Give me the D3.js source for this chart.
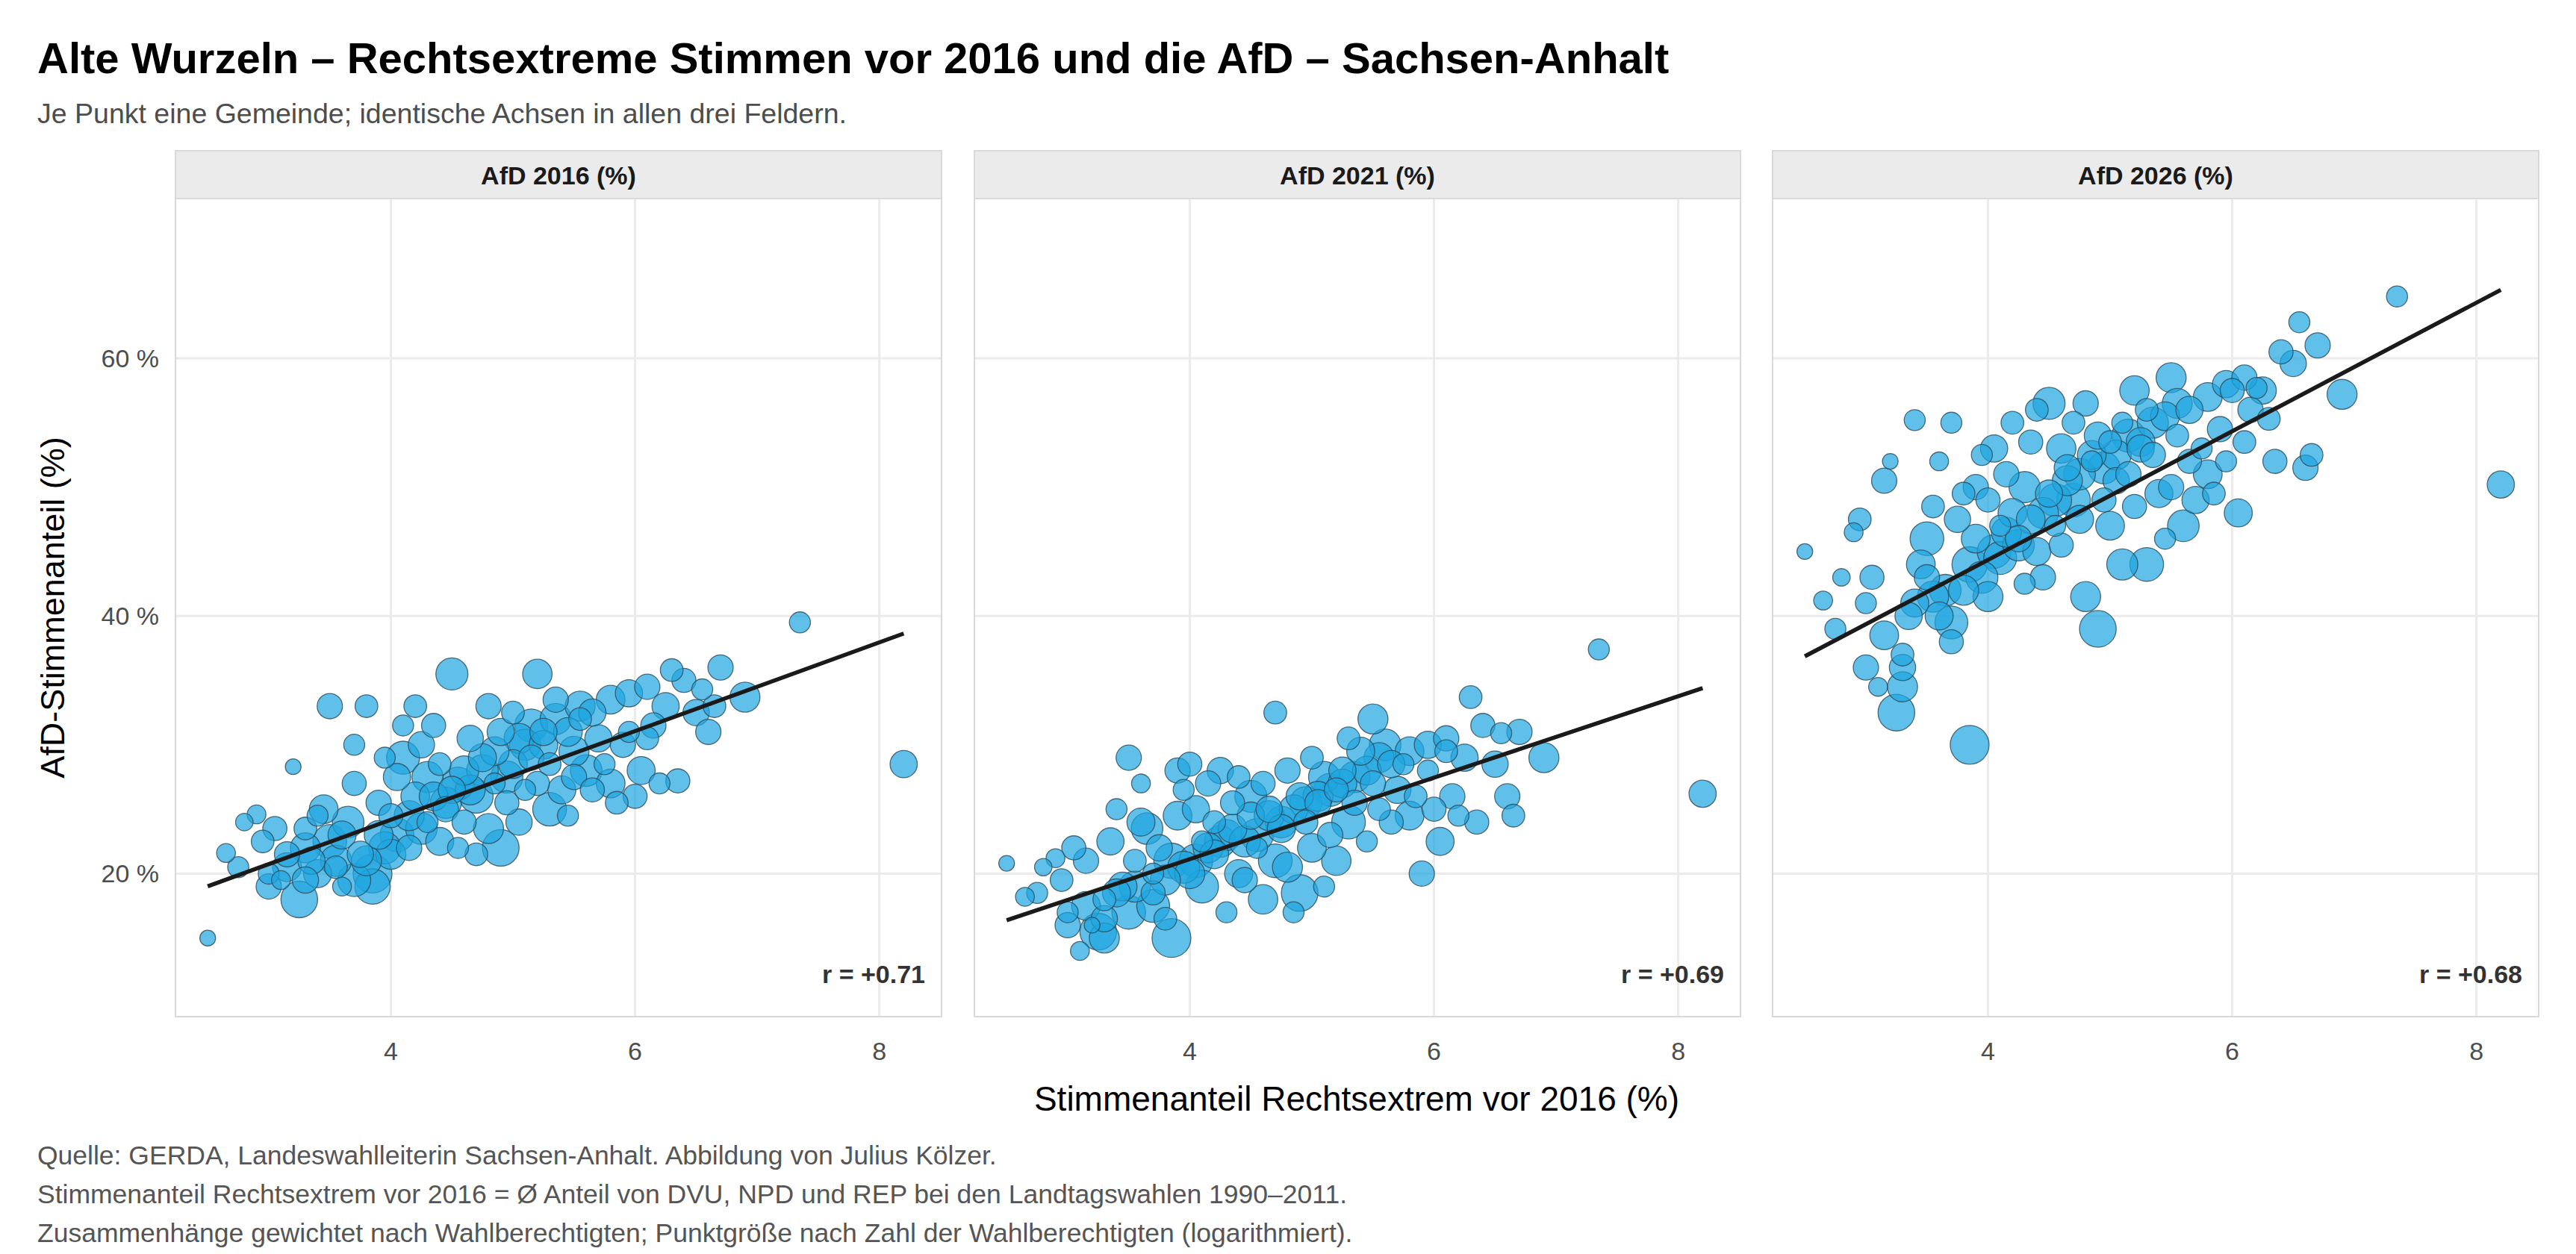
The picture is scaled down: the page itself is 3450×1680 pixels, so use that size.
<!DOCTYPE html>
<html><head><meta charset="utf-8">
<script src="https://cdn.jsdelivr.net/npm/d3@7"></script>
<style>body{margin:0;background:#fff}svg{font-family:"Liberation Sans",Arial,sans-serif}</style>
</head><body>
<svg id="c" width="3450" height="1680"></svg>
<script>
const panels = ["AfD 2016 (%)","AfD 2021 (%)","AfD 2026 (%)"];
const xTicks = [4,6,8];
const yTicks = [20,40,60];
// [x, eligible voters (thousands), AfD2016, AfD2021, AfD2026]
const gemeinden = [
[2.5,1,15.0,20.8,45.0],[2.65,2,21.6,18.2,41.2],[2.8,1.5,24.0,20.5,43.0],[2.9,2,24.6,21.2,46.5],
[2.95,4,22.5,19.5,47.5],[3.0,3,20.0,17.0,41.0],[3.05,5,23.5,22.0,43.0],[3.1,2,19.5,14.0,34.5],
[3.15,6,21.5,21.0,50.5],[3.2,1,28.3,16.0,52.0],[3.25,30,18.0,15.5,32.5],[3.3,12,22.0,15.0,34.5],
[3.3,4,23.5,18.0,37.0],[3.35,8,21.0,22.5,40.0],[3.4,3,24.5,25.0,55.2],[3.45,10,25.0,19.0,44.0],
[3.5,20,22.5,17.0,46.0],[3.5,6,33.0,29.0,43.0],[3.55,4,20.5,21.0,48.5],[3.6,2,19.0,27.0,52.0],
[3.6,9,23.0,24.0,40.0],[3.65,15,24.0,23.5,42.0],[3.7,5,27.0,18.5,38.0],[3.7,3,30.0,20.0,55.0],
[3.75,7,21.5,22.0,47.5],[3.8,4,33.0,16.5,49.5],[3.85,40,20.0,15.0,30.0],[3.85,25,19.0,21.0,44.0],
[3.9,6,25.5,28.0,50.0],[3.9,10,23.0,24.5,46.0],[3.95,3,29.0,26.5,52.5],[4.0,12,21.5,20.0,41.5],
[4.0,5,24.5,28.5,49.0],[4.05,8,27.5,25.0,53.0],[4.1,3,31.5,22.5,47.0],[4.1,18,29.0,19.0,44.5],
[4.15,6,22.0,27.0,51.0],[4.2,4,33.0,24.0,55.0],[4.2,10,26.0,21.5,48.0],[4.25,7,30.0,28.0,46.0],
[4.3,3,24.0,17.0,42.5],[4.3,14,27.5,23.0,50.0],[4.35,5,31.5,25.5,53.5],[4.4,9,22.5,20.0,45.0],
[4.4,4,28.5,27.5,56.0],[4.45,6,25.0,19.5,43.0],[4.5,16,35.5,26.0,56.5],[4.5,8,26.5,24.5,49.5],
[4.55,3,22.0,22.0,47.0],[4.6,11,28.0,18.0,53.0],[4.6,5,24.0,27.0,45.5],[4.65,7,30.5,25.0,51.5],
[4.7,20,26.0,21.0,49.0],[4.7,4,21.5,32.5,55.0],[4.75,9,29.0,23.5,47.5],[4.8,6,33.0,28.0,56.5],
[4.8,12,23.5,20.5,41.5],[4.85,3,27.0,17.0,52.0],[4.9,30,22.0,18.5,39.0],[4.9,8,31.0,26.0,54.0],
[4.95,5,25.5,24.0,49.0],[5.0,10,28.5,22.0,47.0],[5.0,4,32.5,29.0,53.5],[5.05,7,24.0,25.5,50.5],
[5.1,14,30.0,27.5,44.0],[5.1,3,26.5,19.0,55.0],[5.15,6,29.0,23.0,51.0],[5.2,11,35.5,21.0,57.5],
[5.2,5,27.0,26.5,48.5],[5.25,8,31.0,28.0,53.0],[5.3,20,25.0,24.0,44.0],[5.3,4,28.5,30.5,56.0],
[5.35,6,33.5,25.5,52.5],[5.4,9,26.5,29.5,49.5],[5.45,3,24.5,22.5,46.0],[5.5,12,29.5,32.0,58.5],
[5.5,6,27.5,27.0,50.0],[5.55,4,32.0,25.0,54.0],[5.6,15,28.0,30.0,47.0],[5.65,5,26.5,24.0,52.0],
[5.7,8,30.5,26.5,49.0],[5.75,3,28.5,28.5,53.0],[5.8,10,27.0,24.5,51.0],[5.85,4,25.5,26.0,49.5],
[5.9,6,30.0,20.0,54.5],[5.95,3,31.0,28.0,52.0],[6.0,5,26.0,25.0,57.5],[6.05,9,28.0,22.5,48.0],
[6.1,4,30.5,29.5,53.5],[6.15,6,31.5,26.0,56.0],[6.2,3,27.0,24.5,57.7],[6.3,4,35.8,33.7,55.3],
[6.35,5,27.2,24.0,52.0],[6.5,7,32.5,28.5,59.6],[6.55,3,34.3,30.9,62.8],[6.6,6,31.0,26.0,51.5],
[6.65,4,33.0,24.5,52.5],[6.9,12,33.7,29.0,57.2],[7.35,3,39.5,37.4,64.8],[8.2,8,28.5,26.2,50.2],
[2.75,3,20.5,18.5,39.0],[3.0,6,19.0,16.0,36.0],[3.15,10,20.5,17.5,38.5],[3.3,7,19.5,16.5,36.0],
[3.4,9,20.0,18.5,41.0],[3.55,14,21.0,19.0,41.5],[3.7,18,19.5,17.5,39.5],[3.8,12,21.0,19.5,42.0],
[3.95,16,22.0,20.5,43.0],[4.05,20,23.0,21.0,45.0],[4.15,12,24.5,22.0,46.5],[4.25,15,23.5,22.5,45.5],
[4.35,10,26.0,23.5,47.5],[4.45,14,25.5,22.5,48.0],[4.55,18,27.0,23.0,49.0],[4.65,12,26.5,24.5,50.5],
[4.75,15,28.0,24.0,51.0],[4.85,10,29.5,25.0,52.5],[4.95,16,27.5,25.5,51.5],[5.05,12,30.5,26.0,52.5],
[5.15,18,31.5,26.5,54.0],[5.25,10,30.0,27.0,53.5],[5.35,14,32.0,27.5,55.0],[5.45,10,31.0,28.0,55.5],
[5.55,12,33.0,29.0,56.5],[5.65,8,32.5,28.5,56.0],[5.8,10,33.5,29.5,57.0],[5.95,8,34.0,30.0,58.0],
[6.1,6,34.5,30.5,58.5],[6.25,8,33.0,29.0,57.5],[6.4,5,35.0,31.5,60.5],[6.7,6,36.0,31.0,61.0]
];

const svg = d3.select("#c");
const panelX = [235, 1305, 2374], panelW = 1026;
const plotTop = 266, plotBottom = 1362;
const y = d3.scaleLinear().domain([8.9,72.4]).range([plotBottom, plotTop]);
const r = d3.scaleLinear().domain([0, Math.log(41)]).range([7, 26]);

svg.append("text").attr("x",50).attr("y",98).attr("font-size",58).attr("font-weight","bold").attr("fill","#000")
  .text("Alte Wurzeln – Rechtsextreme Stimmen vor 2016 und die AfD – Sachsen-Anhalt");
svg.append("text").attr("x",50).attr("y",165).attr("font-size",37.5).attr("fill","#4d4d4d")
  .text("Je Punkt eine Gemeinde; identische Achsen in allen drei Feldern.");

function wfit(xs, ys, ws){
  const W=d3.sum(ws), mx=d3.sum(xs.map((v,i)=>v*ws[i]))/W, my=d3.sum(ys.map((v,i)=>v*ws[i]))/W;
  let sxy=0,sxx=0,syy=0;
  xs.forEach((v,i)=>{sxy+=ws[i]*(v-mx)*(ys[i]-my);sxx+=ws[i]*(v-mx)**2;syy+=ws[i]*(ys[i]-my)**2;});
  const b=sxy/sxx; return {b, a:my-b*mx, r:sxy/Math.sqrt(sxx*syy)};
}

panels.forEach((name, k) => {
  const x0 = panelX[k];
  const x = d3.scaleLinear().domain([2.236, 8.51]).range([x0, x0+panelW]);
  const g = svg.append("g");
  g.append("rect").attr("x",x0).attr("y",202).attr("width",panelW).attr("height",64)
    .attr("fill","#ebebeb").attr("stroke","#d9d9d9").attr("stroke-width",2);
  g.append("text").attr("x",x0+panelW/2).attr("y",247).attr("text-anchor","middle")
    .attr("font-size",34).attr("font-weight","bold").attr("fill","#1a1a1a").text(name);
  g.selectAll(".gy").data(yTicks).join("line").attr("x1",x0).attr("x2",x0+panelW)
    .attr("y1",d=>y(d)).attr("y2",d=>y(d)).attr("stroke","#ebebeb").attr("stroke-width",3);
  g.selectAll(".gx").data(xTicks).join("line").attr("y1",plotTop).attr("y2",plotBottom)
    .attr("x1",d=>x(d)).attr("x2",d=>x(d)).attr("stroke","#ebebeb").attr("stroke-width",3);
  g.append("rect").attr("x",x0).attr("y",plotTop).attr("width",panelW).attr("height",plotBottom-plotTop)
    .attr("fill","none").attr("stroke","#d9d9d9").attr("stroke-width",2);
  const pts = gemeinden.slice().sort((a,b)=>b[1]-a[1]);
  g.selectAll("circle").data(pts).join("circle")
    .attr("cx",d=>x(d[0])).attr("cy",d=>y(d[2+k])).attr("r",d=>r(Math.log(d[1]+1)))
    .attr("fill","#1ea5e0").attr("fill-opacity",0.7).attr("stroke","#2b4a5a").attr("stroke-opacity",0.8).attr("stroke-width",1.3);
  const f = wfit(gemeinden.map(d=>d[0]), gemeinden.map(d=>d[2+k]), gemeinden.map(d=>d[1]));
  const ex = d3.extent(gemeinden, d=>d[0]);
  g.append("line").attr("x1",x(ex[0])).attr("x2",x(ex[1]))
    .attr("y1",y(f.a+f.b*ex[0])).attr("y2",y(f.a+f.b*ex[1])).attr("stroke","#1a1a1a").attr("stroke-width",5.5);
  g.append("text").attr("x",x0+panelW-22).attr("y",1317).attr("text-anchor","end")
    .attr("font-size",34).attr("font-weight","bold").attr("fill","#333")
    .text("r = " + (f.r>=0?"+":"") + f.r.toFixed(2));
  g.selectAll(".xt").data(xTicks).join("text").attr("x",d=>x(d)).attr("y",1420).attr("text-anchor","middle")
    .attr("font-size",34).attr("fill","#4d4d4d").text(d=>d);
  if(k===0){
    g.selectAll(".yt").data(yTicks).join("text").attr("x",213).attr("y",d=>y(d)+12).attr("text-anchor","end")
      .attr("font-size",34).attr("fill","#4d4d4d").text(d=>d+" %");
  }
});

svg.append("text").attr("x",1817).attr("y",1488).attr("text-anchor","middle").attr("font-size",46).attr("fill","#000")
  .text("Stimmenanteil Rechtsextrem vor 2016 (%)");
svg.append("text").attr("transform","translate(86,814) rotate(-90)").attr("text-anchor","middle").attr("font-size",45).attr("fill","#000")
  .text("AfD-Stimmenanteil (%)");
const captions = ["Quelle: GERDA, Landeswahlleiterin Sachsen-Anhalt. Abbildung von Julius Kölzer.",
 "Stimmenanteil Rechtsextrem vor 2016 = Ø Anteil von DVU, NPD und REP bei den Landtagswahlen 1990–2011.",
 "Zusammenhänge gewichtet nach Wahlberechtigten; Punktgröße nach Zahl der Wahlberechtigten (logarithmiert)."];
svg.selectAll(".cap").data(captions).join("text").attr("x",50).attr("y",(d,i)=>1560+i*52)
  .attr("font-size",35.5).attr("fill","#555").text(d=>d);
</script></body></html>
